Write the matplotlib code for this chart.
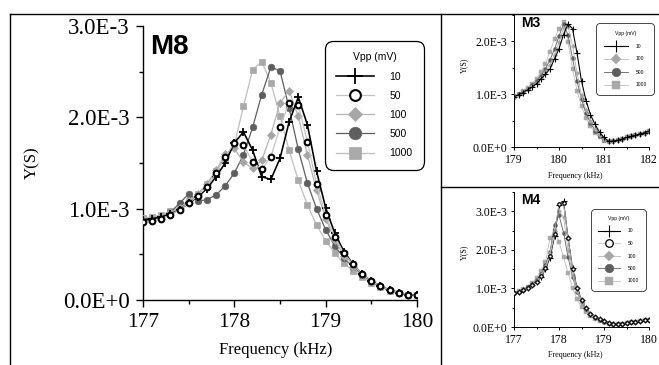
import matplotlib
matplotlib.use("Agg")
import matplotlib.pyplot as plt
import numpy as np
from matplotlib.lines import Line2D
from matplotlib.ticker import MultipleLocator, FuncFormatter

# frequency sweeps (kHz)
freq_m8 = [177.0, 177.1, 177.2, 177.3, 177.4, 177.5, 177.6, 177.7, 177.8, 177.9,
           178.0, 178.1, 178.2, 178.3, 178.4, 178.5, 178.6, 178.7, 178.8, 178.9,
           179.0, 179.1, 179.2, 179.3, 179.4, 179.5, 179.6, 179.7, 179.8, 179.9, 180.0]
freq_m4 = freq_m8
freq_m3 = [179.0, 179.1, 179.2, 179.3, 179.4, 179.5, 179.6, 179.7, 179.8, 179.9,
           180.0, 180.1, 180.2, 180.3, 180.4, 180.5, 180.6, 180.7, 180.8, 180.9,
           181.0, 181.1, 181.2, 181.3, 181.4, 181.5, 181.6, 181.7, 181.8, 181.9, 182.0]

# admittance, in units of 1E-3 S
m8_10 = [0.88, 0.89, 0.91, 0.94, 0.99, 1.06, 1.13, 1.22, 1.35, 1.50, 1.72, 1.84, 1.64, 1.35, 1.32, 1.55,
         1.95, 2.22, 1.92, 1.41, 1.01, 0.73, 0.53, 0.39, 0.28, 0.21, 0.15, 0.11, 0.08, 0.06, 0.05]
m8_50 = [0.85, 0.86, 0.89, 0.93, 0.99, 1.06, 1.14, 1.24, 1.39, 1.57, 1.72, 1.70, 1.51, 1.43, 1.57, 1.89,
         2.16, 2.14, 1.73, 1.27, 0.93, 0.69, 0.51, 0.39, 0.28, 0.21, 0.15, 0.11, 0.08, 0.06, 0.05]
m8_100 = [0.89, 0.90, 0.92, 0.96, 1.01, 1.08, 1.16, 1.27, 1.42, 1.60, 1.66, 1.51, 1.44, 1.53, 1.81, 2.16,
          2.29, 2.01, 1.59, 1.20, 0.89, 0.66, 0.48, 0.36, 0.27, 0.20, 0.15, 0.11, 0.08, 0.06, 0.05]
m8_500 = [0.86, 0.88, 0.91, 0.96, 1.06, 1.16, 1.08, 1.10, 1.15, 1.25, 1.39, 1.59, 1.89, 2.25, 2.55, 2.51,
          2.10, 1.65, 1.28, 1.00, 0.77, 0.59, 0.46, 0.36, 0.27, 0.21, 0.15, 0.11, 0.08, 0.06, 0.05]
m8_1000 = [0.90, 0.91, 0.93, 0.97, 1.02, 1.08, 1.16, 1.27, 1.41, 1.56, 1.70, 2.12, 2.52, 2.61, 2.38, 2.01,
           1.64, 1.31, 1.04, 0.82, 0.65, 0.51, 0.40, 0.32, 0.25, 0.19, 0.14, 0.10, 0.08, 0.06, 0.05]

m3_10 = [0.95, 0.99, 1.03, 1.08, 1.13, 1.20, 1.29, 1.38, 1.48, 1.67, 1.86, 2.13, 2.33, 2.24, 1.78, 1.25,
         0.88, 0.61, 0.43, 0.28, 0.18, 0.11, 0.11, 0.13, 0.15, 0.18, 0.20, 0.22, 0.25, 0.27, 0.30]
m3_100 = [0.95, 0.99, 1.04, 1.09, 1.15, 1.22, 1.31, 1.42, 1.56, 1.75, 1.98, 2.25, 2.28, 1.92, 1.40, 0.98,
          0.70, 0.50, 0.34, 0.22, 0.14, 0.11, 0.11, 0.13, 0.15, 0.18, 0.20, 0.22, 0.25, 0.27, 0.30]
m3_500 = [0.95, 1.00, 1.05, 1.10, 1.17, 1.25, 1.35, 1.48, 1.65, 1.85, 2.10, 2.33, 2.12, 1.68, 1.25, 0.90,
          0.64, 0.46, 0.31, 0.21, 0.14, 0.11, 0.11, 0.13, 0.15, 0.18, 0.20, 0.22, 0.25, 0.27, 0.30]
m3_1000 = [0.96, 1.01, 1.06, 1.12, 1.20, 1.29, 1.42, 1.58, 1.80, 2.05, 2.24, 2.37, 1.98, 1.48, 1.07, 0.77,
           0.55, 0.39, 0.27, 0.18, 0.12, 0.10, 0.11, 0.13, 0.15, 0.18, 0.20, 0.22, 0.25, 0.27, 0.30]

m4_10 = [0.88, 0.92, 0.96, 1.01, 1.08, 1.17, 1.30, 1.50, 1.80, 2.35, 3.16, 3.26, 2.32, 1.52, 1.02, 0.70,
         0.48, 0.35, 0.26, 0.20, 0.15, 0.11, 0.09, 0.08, 0.09, 0.10, 0.12, 0.14, 0.16, 0.18, 0.19]
m4_50 = [0.88, 0.92, 0.96, 1.01, 1.08, 1.17, 1.31, 1.52, 1.85, 2.40, 3.18, 3.22, 2.30, 1.50, 1.00, 0.69,
         0.48, 0.35, 0.26, 0.20, 0.15, 0.11, 0.09, 0.08, 0.09, 0.10, 0.12, 0.14, 0.16, 0.18, 0.19]
m4_100 = [0.88, 0.92, 0.97, 1.02, 1.10, 1.20, 1.34, 1.56, 1.92, 2.50, 3.00, 2.85, 2.00, 1.35, 0.93, 0.65,
          0.46, 0.33, 0.25, 0.19, 0.14, 0.11, 0.09, 0.08, 0.09, 0.10, 0.12, 0.14, 0.16, 0.18, 0.19]
m4_500 = [0.88, 0.92, 0.97, 1.03, 1.11, 1.22, 1.37, 1.60, 1.95, 2.65, 2.90, 2.45, 1.82, 1.30, 0.92, 0.65,
          0.46, 0.33, 0.25, 0.19, 0.14, 0.11, 0.09, 0.08, 0.09, 0.10, 0.12, 0.14, 0.16, 0.18, 0.19]
m4_1000 = [0.89, 0.93, 0.98, 1.05, 1.14, 1.27, 1.45, 1.68, 2.30, 2.48, 2.20, 1.82, 1.40, 1.02, 0.72, 0.52,
           0.38, 0.28, 0.21, 0.16, 0.12, 0.09, 0.08, 0.07, 0.08, 0.10, 0.12, 0.14, 0.16, 0.18, 0.19]

SERIF = "Liberation Serif"
SANS = "Liberation Sans"

# marker / line style per drive level
STYLE = {
    "10": dict(marker="+", color="black", mfc="black", mec="black", mew=1.3),
    "50": dict(marker="o", color="#c4c4c4", mfc="white", mec="black", mew=1.5),
    "100": dict(marker="D", color="#b5b5b5", mfc="#a6a6a6", mec="#a6a6a6", mew=0.5),
    "500": dict(marker="o", color="#5e5e5e", mfc="#5e5e5e", mec="#5e5e5e", mew=0.5),
    "1000": dict(marker="s", color="#bdbdbd", mfc="#a9a9a9", mec="#a9a9a9", mew=0.5),
}
MS = {"10": 1.45, "50": 0.95, "100": 0.85, "500": 1.1, "1000": 1.0}
DRAW_ORDER = ["1000", "500", "100", "10", "50"]


def sci(v, pos):
    if abs(v) < 1e-12:
        return "0.0E+0"
    e = int(np.floor(np.log10(abs(v)) + 1e-9))
    return f"{v / 10**e:.1f}E{e:d}"


def panel(ax, freq, series, xlim, ylim, ms, lw, tick_fs, lab_fs, spine_w, tick_len):
    handles = {}
    for key in DRAW_ORDER:
        if key not in series:
            continue
        st = STYLE[key]
        y = np.array(series[key]) * 1e-3
        h, = ax.plot(freq, y, color=st["color"], lw=lw * (1.3 if key == "10" else 1.0),
                     marker=st["marker"], ms=ms * MS[key], mfc=st["mfc"], mec=st["mec"],
                     mew=st["mew"] * (ms / 4.3), zorder=3)
        handles[key] = h
    ax.set_xlim(*xlim)
    ax.set_ylim(*ylim)
    for s in ["top", "right"]:
        ax.spines[s].set_visible(False)
    for s in ["left", "bottom"]:
        ax.spines[s].set_linewidth(spine_w)
    ax.xaxis.set_major_locator(MultipleLocator(1))
    ax.xaxis.set_minor_locator(MultipleLocator(0.5))
    ax.yaxis.set_major_locator(MultipleLocator(1e-3))
    ax.yaxis.set_minor_locator(MultipleLocator(0.5e-3))
    ax.yaxis.set_major_formatter(FuncFormatter(sci))
    ax.xaxis.set_major_formatter(FuncFormatter(lambda v, p: f"{v:.0f}"))
    ax.tick_params(which="major", direction="out", length=tick_len, width=spine_w,
                   labelsize=tick_fs[0], pad=tick_len * 0.9)
    ax.tick_params(which="minor", direction="out", length=tick_len * 0.6, width=spine_w)
    ax.tick_params(axis="x", labelsize=tick_fs[1])
    for lab in ax.get_xticklabels() + ax.get_yticklabels():
        lab.set_fontfamily(SERIF)
    ax.set_xlabel("Frequency (kHz)", fontsize=lab_fs, fontfamily=SERIF)
    ax.set_ylabel("Y(S)", fontsize=lab_fs, fontfamily=SERIF)
    ax.patch.set_alpha(0)
    return handles


def add_legend(ax, handles, fs, anchor, mscale, hlen, lspace, bpad, frame_w, tpad):
    keys = [k for k in ["10", "50", "100", "500", "1000"] if k in handles]
    leg = ax.legend([handles[k] for k in keys], keys, title="Vpp (mV)",
                    loc="upper left", bbox_to_anchor=anchor, bbox_transform=fig.transFigure,
                    borderaxespad=0, markerscale=mscale,
                    handlelength=hlen, handletextpad=tpad, labelspacing=lspace,
                    borderpad=bpad, frameon=True, fancybox=True,
                    prop={"family": SANS, "size": fs})
    leg.get_title().set_fontfamily(SANS)
    leg.get_title().set_fontsize(fs)
    fr = leg.get_frame()
    fr.set_edgecolor("black")
    fr.set_linewidth(frame_w)
    fr.set_facecolor("white")
    fr.set_alpha(1)
    fr.set_boxstyle("round", pad=0, rounding_size=0.8)
    leg.set_zorder(5)
    return leg


W, H = 659, 365
fig = plt.figure(figsize=(W / 100, H / 100), dpi=100)

# main panel M8
ax1 = fig.add_axes([143 / W, 1 - 300 / H, 274 / W, 274 / H])
h1 = panel(ax1, freq_m8,
           {"10": m8_10, "50": m8_50, "100": m8_100, "500": m8_500, "1000": m8_1000},
           (177, 180), (0, 3.0e-3), 4.3, 0.9, (16.5, 15.5), 12, 1.0, 5)
ax1.yaxis.set_label_coords((40 - 143) / 274, 0.5)
ax1.xaxis.set_label_coords((276 - 143) / 274, (300 - 342) / 274)
ax1.text(0.025, 0.97, "M8", transform=ax1.transAxes, fontsize=20, fontweight="bold",
         fontfamily=SANS, va="top", ha="left")
add_legend(ax1, h1, 7.5, (325 / W, 1 - 41 / H), 1.9, 3.6, 0.88, 1.1, 0.9, 1.5)

# M3 panel
ax2 = fig.add_axes([514 / W, 1 - 147 / H, 135 / W, 132 / H])
h2 = panel(ax2, freq_m3, {"10": m3_10, "100": m3_100, "500": m3_500, "1000": m3_1000},
           (179, 182), (0, 2.5e-3), 2.6, 0.6, (8.5, 8.5), 5.8, 0.7, 2.5)
ax2.yaxis.set_label_coords((468 - 514) / 135, 0.62)
ax2.xaxis.set_label_coords(0.45, -0.19)
ax2.text(0.05, 0.99, "M3", transform=ax2.transAxes, fontsize=10, fontweight="bold",
         fontfamily=SANS, va="top", ha="left")
add_legend(ax2, h2, 3.6, (596 / W, 1 - 23 / H), 2.2, 4.8, 1.6, 1.5, 0.5, 1.6)

# M4 panel
ax3 = fig.add_axes([514 / W, 1 - 327 / H, 135 / W, 135 / H])
h3 = panel(ax3, freq_m4,
           {"10": m4_10, "50": m4_50, "100": m4_100, "500": m4_500, "1000": m4_1000},
           (177, 180), (0, 3.5e-3), 2.6, 0.6, (8.5, 8.5), 5.8, 0.7, 2.5)
ax3.yaxis.set_label_coords((468 - 514) / 135, 0.55)
ax3.xaxis.set_label_coords(0.45, -0.18)
ax3.text(0.05, 0.99, "M4", transform=ax3.transAxes, fontsize=10, fontweight="bold",
         fontfamily=SANS, va="top", ha="left")
add_legend(ax3, h3, 3.6, (591 / W, 1 - 209 / H), 2.2, 4.4, 1.5, 1.4, 0.5, 1.5)

# panel frame lines
for xs, ys in [((10, W), (14, 14)), ((10, 10), (14, H)), ((441, 441), (14, H)),
               ((441, W), (187, 187))]:
    fig.add_artist(Line2D([x / W for x in xs], [1 - y / H for y in ys],
                          transform=fig.transFigure, color="black", lw=1.0))

fig.savefig("out.png", dpi=100)
